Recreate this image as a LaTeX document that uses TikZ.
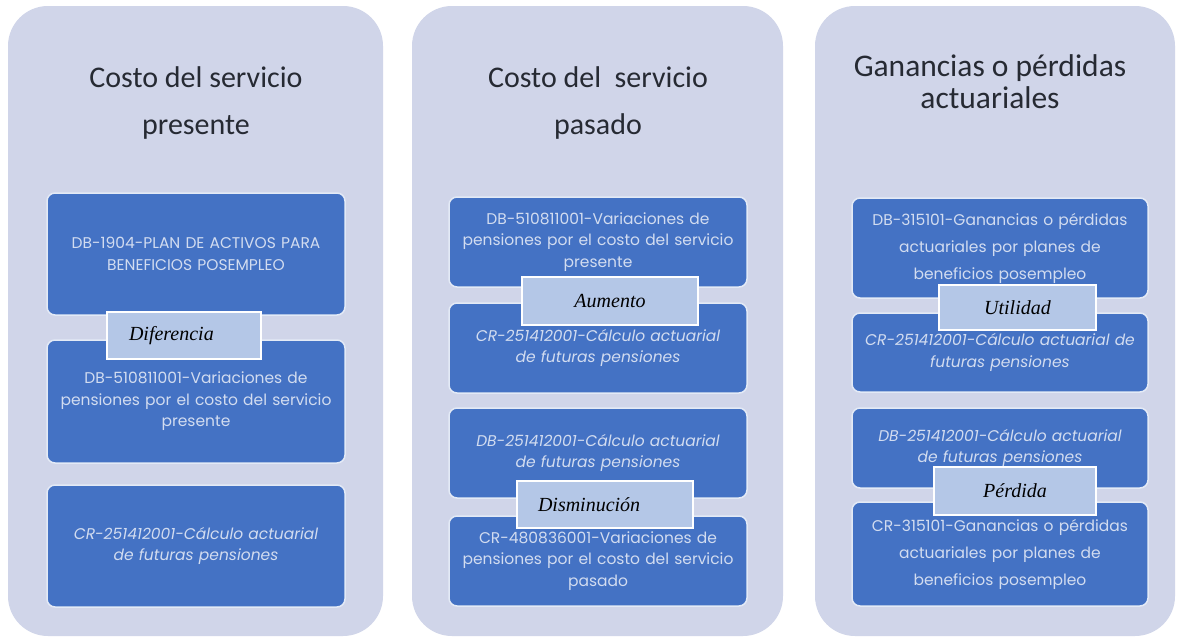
\documentclass[tikz,border=0pt]{standalone}
\usepackage{fontspec}
\setmainfont{Carlito}
\newfontfamily\boxfont{Poppins}
\newfontfamily\labfont{Liberation Serif}
\definecolor{panelbg}{HTML}{D0D5E9}
\definecolor{acctblue}{HTML}{4472C4}
\definecolor{accttext}{HTML}{D2DCF0}
\definecolor{labbg}{HTML}{B4C7E7}
\definecolor{titletext}{HTML}{262A33}
\tikzset{
  panel/.style={fill=panelbg, rounded corners=40pt, draw=none},
  acct/.style={fill=acctblue, draw=white!85!acctblue, line width=1.5pt, rounded corners=8pt,
    text=accttext, align=center, inner sep=1pt,
    font=\boxfont\fontsize{15.5}{21.5}\selectfont},
  lab/.style={fill=labbg, draw=white, line width=1.5pt, inner sep=0pt,
    font=\labfont\itshape\fontsize{20}{22}\selectfont, text=black},
  title/.style={align=center, text=titletext, font=\fontsize{30}{47}\selectfont}
}
\begin{document}
\begin{tikzpicture}[x=1pt,y=-1pt]
\useasboundingbox[fill=white] (0,0) rectangle (1177,637);
% panels
\node[panel, minimum width=375pt, minimum height=630pt] (p1) at (195.5,321) {};
\node[panel, minimum width=371pt, minimum height=630pt] (p2) at (597.5,321) {};
\node[panel, minimum width=360pt, minimum height=630pt] (p3) at (995,321) {};
% titles
\node[title] (t1) at (196,103) {Costo del servicio\\presente};
\node[title] (t2) at (598,103) {Costo del\ \ servicio\\pasado};
\node[title, font=\fontsize{31.5}{32}\selectfont] (t3) at (990,82) {Ganancias o pérdidas\\actuariales};
% panel 1 boxes
\node[acct, minimum width=298pt, minimum height=122pt, text width=294pt] (a1) at (196,254) {DB-1904-PLAN DE ACTIVOS PARA\\BENEFICIOS POSEMPLEO};
\node[acct, minimum width=298pt, minimum height=123pt, text width=294pt] (a2) at (196,401.5) {DB-510811001-Variaciones de\\pensiones por el costo del servicio\\presente\\[4pt]};
\node[acct, minimum width=298pt, minimum height=122pt, text width=294pt] (a3) at (196,546) {\itshape CR-251412001-Cálculo actuarial\\\itshape de futuras pensiones};
\node[lab, minimum width=154pt, minimum height=47pt, text width=110pt] (l1) at (184,335.5) {Diferencia};
% panel 2 boxes
\node[acct, minimum width=298pt, minimum height=90pt, text width=294pt] (b1) at (598,242) {DB-510811001-Variaciones de\\pensiones por el costo del servicio\\presente};
\node[acct, minimum width=298pt, minimum height=90pt, text width=294pt] (b2) at (598,348) {\itshape CR-251412001-Cálculo actuarial\\\itshape de futuras pensiones};
\node[acct, minimum width=298pt, minimum height=90pt, text width=294pt] (b3) at (598,453) {\itshape DB-251412001-Cálculo actuarial\\\itshape de futuras pensiones};
\node[acct, minimum width=298pt, minimum height=90pt, text width=294pt] (b4) at (598,561) {CR-480836001-Variaciones de\\pensiones por el costo del servicio\\pasado};
\node[lab, minimum width=176pt, minimum height=48pt] (l2) at (610,301) {Aumento};
\node[lab, minimum width=176pt, minimum height=47pt, text width=134pt] (l3) at (605,504.5) {Disminución};
% panel 3 boxes
\node[acct, minimum width=296pt, minimum height=100pt, text width=292pt, font=\boxfont\fontsize{15.5}{27}\selectfont] (c1) at (1000,248) {DB-315101-Ganancias o pérdidas\\actuariales por planes de\\beneficios posempleo};
\node[acct, minimum width=296pt, minimum height=79pt, text width=292pt] (c2) at (1000,352.5) {\itshape CR-251412001-Cálculo actuarial de\\\itshape futuras pensiones\\[4pt]};
\node[acct, minimum width=296pt, minimum height=80pt, text width=292pt] (c3) at (1000,448) {\itshape DB-251412001-Cálculo actuarial\\\itshape de futuras pensiones\\[6pt]};
\node[acct, minimum width=296pt, minimum height=104pt, text width=292pt, font=\boxfont\fontsize{15.5}{27}\selectfont] (c4) at (1000,554) {CR-315101-Ganancias o pérdidas\\actuariales por planes de\\beneficios posempleo};
\node[lab, minimum width=157pt, minimum height=45pt] (l4) at (1017.5,307.5) {Utilidad};
\node[lab, minimum width=162pt, minimum height=48pt] (l5) at (1015,491) {Pérdida};
\end{tikzpicture}
\end{document}
